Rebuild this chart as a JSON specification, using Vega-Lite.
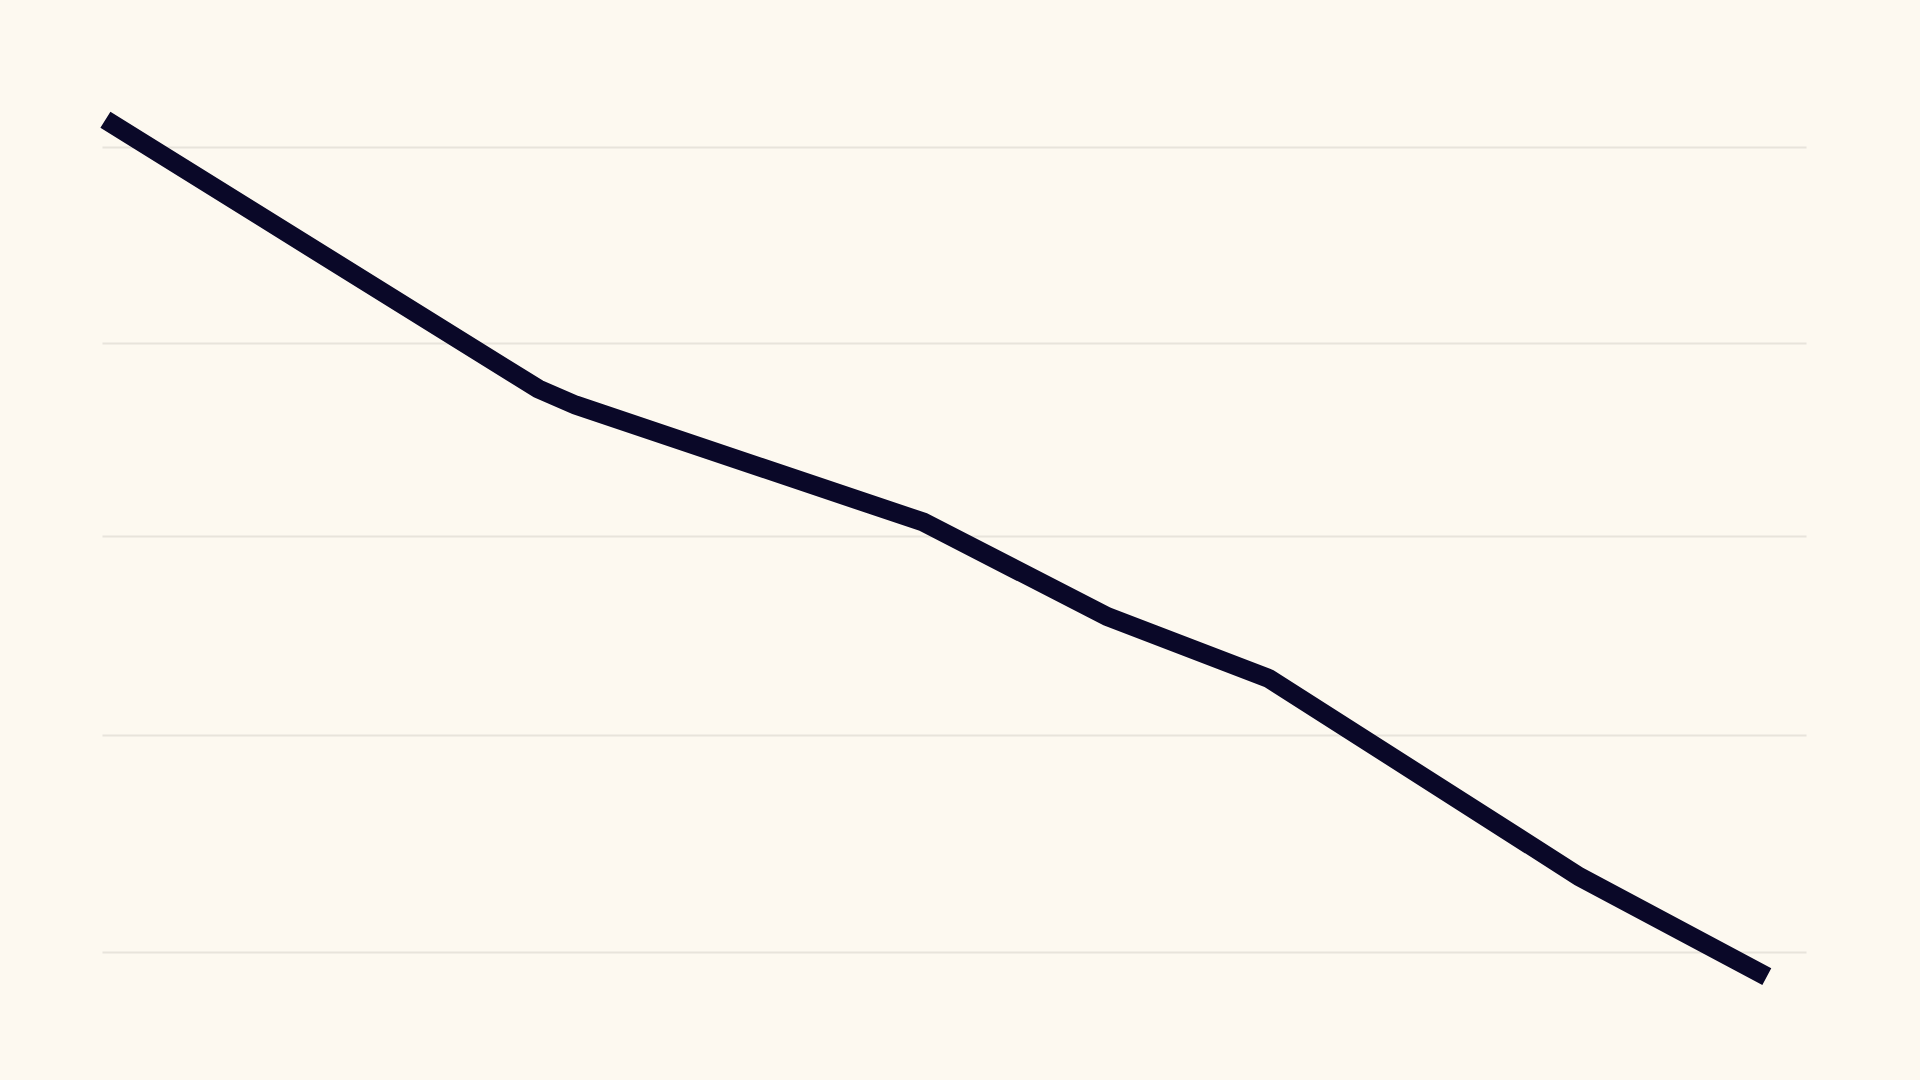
{
  "$schema": "https://vega.github.io/schema/vega-lite/v6.json",
  "width": 1704,
  "height": 900,
  "autosize": {"type": "none"},
  "padding": {"left": 102, "top": 100, "right": 114, "bottom": 80},
  "background": "#fdf9f0",
  "data": {
    "values": [
      {"x": 0.2, "y": 97.8},
      {"x": 25.6, "y": 67.9},
      {"x": 27.8, "y": 66.1},
      {"x": 48.2, "y": 53.1},
      {"x": 59.0, "y": 42.6},
      {"x": 68.5, "y": 35.7},
      {"x": 86.7, "y": 13.7},
      {"x": 97.7, "y": 2.6}
    ]
  },
  "mark": {"type": "line", "color": "#0a0828", "strokeWidth": 19, "strokeJoin": "miter"},
  "encoding": {
    "x": {
      "field": "x",
      "type": "quantitative",
      "scale": {"domain": [0, 100], "nice": false, "zero": false},
      "axis": null
    },
    "y": {
      "field": "y",
      "type": "quantitative",
      "scale": {"domain": [0, 100], "nice": false, "zero": false},
      "axis": {
        "values": [5.3, 29.4, 51.6, 73.0, 94.8],
        "grid": true,
        "gridColor": "#e8e4db",
        "gridWidth": 2,
        "labels": false,
        "ticks": false,
        "domain": false,
        "title": null
      }
    }
  },
  "config": {
    "view": {"stroke": null}
  }
}
